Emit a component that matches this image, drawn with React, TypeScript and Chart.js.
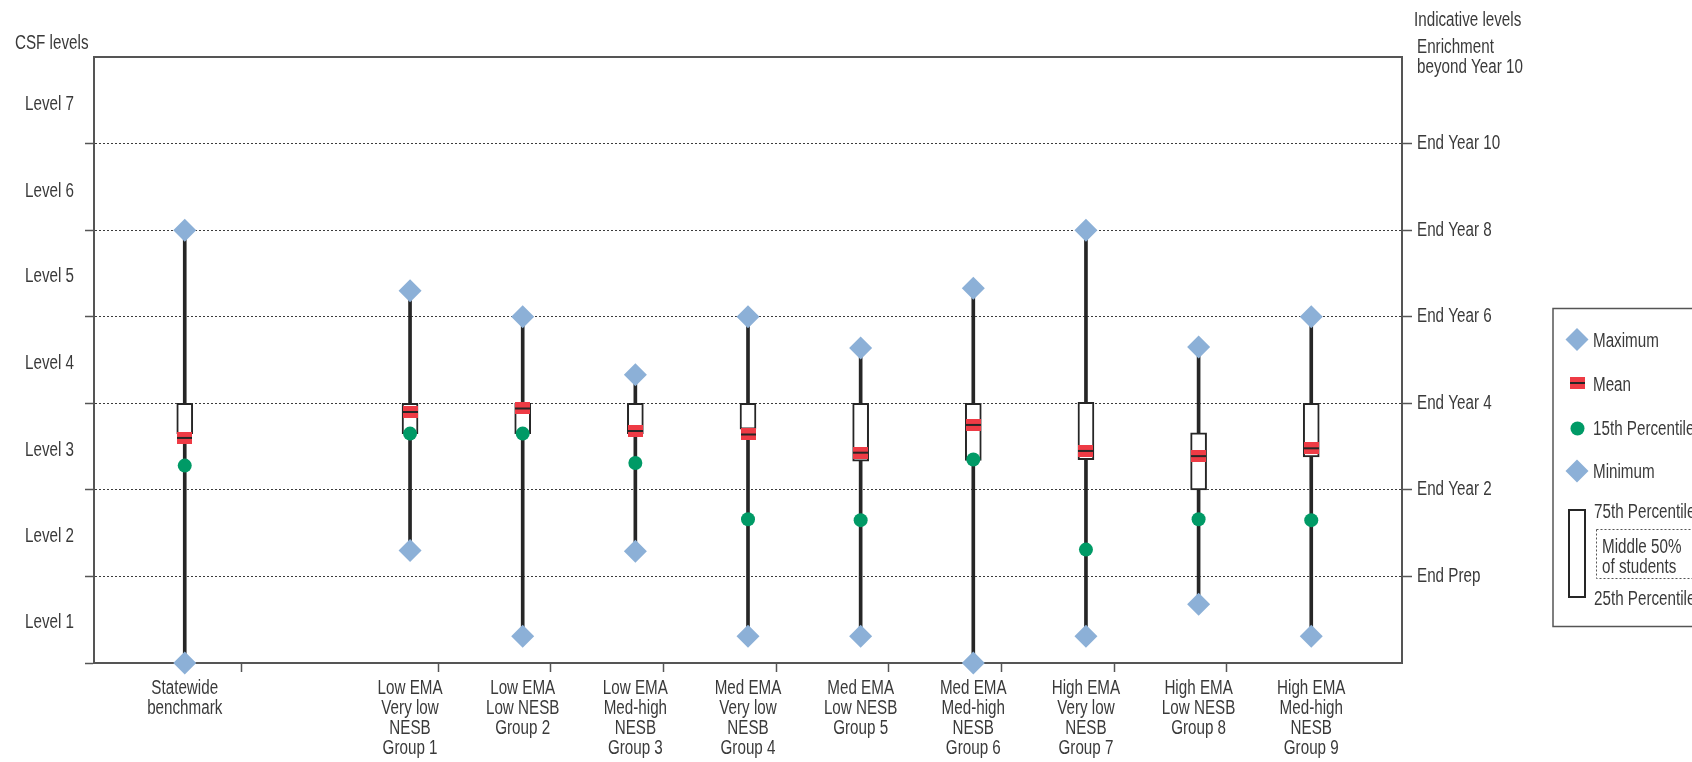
import React, { useEffect, useRef } from 'react';
import { Chart, registerables } from 'chart.js';

Chart.register(...registerables);

// ---------------- DATA ----------------
const CATEGORIES: (string | string[])[] = [
  ['Statewide', 'benchmark'],
  '',
  ['Low EMA', 'Very low', 'NESB', 'Group 1'],
  ['Low EMA', 'Low NESB', 'Group 2'],
  ['Low EMA', 'Med-high', 'NESB', 'Group 3'],
  ['Med EMA', 'Very low', 'NESB', 'Group 4'],
  ['Med EMA', 'Low NESB', 'Group 5'],
  ['Med EMA', 'Med-high', 'NESB', 'Group 6'],
  ['High EMA', 'Very low', 'NESB', 'Group 7'],
  ['High EMA', 'Low NESB', 'Group 8'],
  ['High EMA', 'Med-high', 'NESB', 'Group 9'],
];
const MAXIMUM: (number | null)[] = [5.0, null, 4.3, 4.0, 3.33, 4.0, 3.64, 4.33, 5.0, 3.65, 4.0];
const MINIMUM: (number | null)[] = [0, null, 1.3, 0.31, 1.29, 0.31, 0.31, 0, 0.31, 0.68, 0.31];
const P75: (number | null)[] = [3.0, null, 3.0, 3.0, 3.0, 3.0, 3.0, 3.0, 3.01, 2.66, 3.0];
const P25: (number | null)[] = [2.65, null, 2.65, 2.65, 2.65, 2.7, 2.33, 2.34, 2.35, 2.0, 2.38];
const MEAN: (number | null)[] = [2.6, null, 2.9, 2.94, 2.68, 2.64, 2.43, 2.75, 2.45, 2.39, 2.48];
const P15: (number | null)[] = [2.28, null, 2.65, 2.65, 2.31, 1.66, 1.65, 2.35, 1.31, 1.66, 1.65];

const LEFT_LABELS = ['Level 1', 'Level 2', 'Level 3', 'Level 4', 'Level 5', 'Level 6', 'Level 7'];
const LEFT_LABEL_POS = [0.47, 1.46, 2.46, 3.46, 4.46, 5.45, 6.45];
const RIGHT_LABELS: (string | string[])[] = [
  'End Prep', 'End Year 2', 'End Year 4', 'End Year 6', 'End Year 8', 'End Year 10',
  ['Enrichment', 'beyond Year 10'],
];
const X_MARK_TICKS = [1, 2.5, 3.5, 4.5, 5.5, 6.5, 7.5, 8.5, 9.5];
const LEFT_TITLE = 'CSF levels';
const RIGHT_TITLE = 'Indicative levels';
const LEGEND_ITEMS = ['Maximum', 'Mean', '15th Percentile', 'Minimum'];
const LEGEND_BOX_TEXT = ['75th Percentile', 'Middle 50%', 'of students', '25th Percentile'];

// ---------------- STYLE ----------------
const FONT_FAMILY = '"Liberation Sans", Arial, sans-serif';
const FONT_SIZE = 20;
const TEXT_SCALE_X = 0.76; // narrow (condensed) look
const TEXT = '#3a3a3a';
const AXIS = '#555555';
const DARK = '#262626';
const BLUE = '#8CB0D7';
const GREEN = '#009A66';
const RED = '#EE3B45';

function makeMeanImage(): HTMLCanvasElement {
  const c = document.createElement('canvas');
  c.width = 15;
  c.height = 12;
  const g = c.getContext('2d')!;
  g.fillStyle = RED;
  g.fillRect(0, 0, 15, 12);
  g.fillStyle = DARK;
  g.fillRect(0, 5, 15, 2);
  return c;
}

function pts(arr: (number | null)[]) {
  const out: { x: number; y: number }[] = [];
  arr.forEach((v, i) => {
    if (v !== null) out.push({ x: i, y: v });
  });
  return out;
}
function ranges(lo: (number | null)[], hi: (number | null)[]) {
  const out: { x: number; y: [number, number] }[] = [];
  lo.forEach((v, i) => {
    const h = hi[i];
    if (v !== null && h !== null) out.push({ x: i, y: [v, h] });
  });
  return out;
}

function condenseText(ctx: any) {
  if (ctx.__condensed) return;
  ctx.__condensed = true;
  const orig = ctx.fillText.bind(ctx);
  ctx.fillText = (text: string, x: number, y: number, maxWidth?: number) => {
    ctx.save();
    ctx.translate(x, y);
    ctx.scale(TEXT_SCALE_X, 1);
    if (maxWidth !== undefined) orig(text, 0, 0, maxWidth / TEXT_SCALE_X);
    else orig(text, 0, 0);
    ctx.restore();
  };
}

export default function App() {
  const ref = useRef<HTMLCanvasElement | null>(null);

  useEffect(() => {
    document.body.style.margin = '0';
    const canvas = ref.current!;
    const context = canvas.getContext('2d')!;
    condenseText(context);
    const meanImg = makeMeanImage();
    const font = { family: FONT_FAMILY, size: FONT_SIZE, lineHeight: '20px' };
    const fontStr = `${FONT_SIZE}px ${FONT_FAMILY}`;

    const framePlugin = {
      id: 'frame',
      beforeDatasetsDraw(chart: any) {
        const { ctx, chartArea: a } = chart;
        ctx.save();
        ctx.strokeStyle = AXIS;
        ctx.lineWidth = 2;
        ctx.beginPath();
        ctx.moveTo(a.left - 1, a.top);
        ctx.lineTo(a.right + 1, a.top);
        ctx.stroke();
        ctx.restore();
      },
    };

    const annotPlugin = {
      id: 'annot',
      afterDraw(chart: any) {
        const ctx: CanvasRenderingContext2D = chart.ctx;
        ctx.save();
        ctx.font = fontStr;
        ctx.fillStyle = TEXT;
        ctx.textBaseline = 'middle';
        ctx.textAlign = 'left';
        ctx.fillText(LEFT_TITLE, 15, 43);
        ctx.fillText(RIGHT_TITLE, 1414, 20);

        // legend box
        const lx = 1553;
        ctx.strokeStyle = AXIS;
        ctx.lineWidth = 1.5;
        ctx.strokeRect(lx, 308.5, 200, 318);

        const diamond = (cx: number, cy: number, r: number) => {
          ctx.beginPath();
          ctx.moveTo(cx - r, cy);
          ctx.lineTo(cx, cy - r);
          ctx.lineTo(cx + r, cy);
          ctx.lineTo(cx, cy + r);
          ctx.closePath();
          ctx.fillStyle = BLUE;
          ctx.fill();
        };
        const tx = 1593;
        diamond(1577, 339.5, 11.5);
        ctx.drawImage(meanImg, 1570, 377);
        ctx.beginPath();
        ctx.arc(1577.5, 428.5, 7, 0, Math.PI * 2);
        ctx.fillStyle = GREEN;
        ctx.fill();
        diamond(1577, 471, 11.5);
        ctx.fillStyle = TEXT;
        ctx.fillText(LEGEND_ITEMS[0], tx, 341);
        ctx.fillText(LEGEND_ITEMS[1], tx, 385);
        ctx.fillText(LEGEND_ITEMS[2], tx, 429);
        ctx.fillText(LEGEND_ITEMS[3], tx, 472);

        // box sample
        ctx.strokeStyle = DARK;
        ctx.lineWidth = 2;
        ctx.strokeRect(1569, 510, 16, 87);
        ctx.fillStyle = TEXT;
        ctx.fillText(LEGEND_BOX_TEXT[0], 1594, 512);
        ctx.fillText(LEGEND_BOX_TEXT[3], 1594, 599);
        ctx.save();
        ctx.setLineDash([2, 2]);
        ctx.strokeStyle = AXIS;
        ctx.lineWidth = 1;
        ctx.strokeRect(1596.5, 529.5, 120, 49);
        ctx.restore();
        ctx.fillText(LEGEND_BOX_TEXT[1], 1602, 547);
        ctx.fillText(LEGEND_BOX_TEXT[2], 1602, 567);
        ctx.restore();
      },
    };

    const isInt = (v: number) => Math.abs(v - Math.round(v)) < 1e-6;
    const yTicks: number[] = [0, 1, 2, 3, 4, 5, 6, 7, ...LEFT_LABEL_POS].sort((a, b) => a - b);
    const xTicks: number[] = [];
    CATEGORIES.forEach((_, i) => xTicks.push(i));
    X_MARK_TICKS.forEach((v) => { if (!xTicks.includes(v)) xTicks.push(v); });
    xTicks.sort((a, b) => a - b);

    const chart = new Chart(context, {
      type: 'bar',
      data: {
        datasets: [
          {
            type: 'scatter',
            label: 'Maximum',
            data: pts(MAXIMUM),
            pointStyle: 'rectRot',
            pointRadius: 11.5,
            pointBackgroundColor: BLUE,
            pointBorderWidth: 0,
            order: 1,
            clip: false,
          },
          {
            type: 'scatter',
            label: 'Minimum',
            data: pts(MINIMUM),
            pointStyle: 'rectRot',
            pointRadius: 11.5,
            pointBackgroundColor: BLUE,
            pointBorderWidth: 0,
            order: 2,
            clip: false,
          },
          {
            type: 'scatter',
            label: '15th Percentile',
            data: pts(P15),
            pointStyle: 'circle',
            pointRadius: 7,
            pointBackgroundColor: GREEN,
            pointBorderWidth: 0,
            order: 3,
            clip: false,
          },
          {
            type: 'scatter',
            label: 'Mean',
            data: pts(MEAN),
            pointStyle: meanImg,
            order: 4,
            clip: false,
          },
          {
            type: 'bar',
            label: 'Middle 50%',
            data: ranges(P25, P75),
            backgroundColor: '#ffffff',
            borderColor: DARK,
            borderWidth: 2,
            borderSkipped: false,
            barThickness: 16,
            grouped: false,
            order: 5,
          },
          {
            type: 'bar',
            label: 'Range',
            data: ranges(MINIMUM, MAXIMUM),
            backgroundColor: DARK,
            borderWidth: 0,
            barThickness: 3,
            grouped: false,
            order: 6,
          },
        ] as any,
      },
      options: {
        responsive: false,
        animation: false,
        devicePixelRatio: 1,
        events: [],
        layout: { padding: { top: 57, left: 0, right: 0, bottom: 0 } },
        plugins: { legend: { display: false }, tooltip: { enabled: false } },
        scales: {
          x: {
            type: 'linear',
            position: 'bottom',
            min: -0.5,
            max: 10.5,
            afterBuildTicks: (s: any) => { s.ticks = xTicks.map((v) => ({ value: v })); },
            afterFit: (s: any) => { s.height = 99; },
            ticks: {
              autoSkip: false,
              maxRotation: 0,
              minRotation: 0,
              padding: 6,
              color: TEXT,
              font,
              callback: (v: any) => (isInt(Number(v)) ? CATEGORIES[Math.round(Number(v))] : ''),
            },
            grid: {
              drawOnChartArea: false,
              drawTicks: true,
              tickLength: 9,
              tickWidth: 1.5,
              tickBorderDash: [],
              color: 'transparent',
              tickColor: (c: any) => (c.tick && X_MARK_TICKS.includes(c.tick.value) ? AXIS : 'transparent'),
            },
            border: { display: true, color: AXIS, width: 2 },
          },
          y: {
            type: 'linear',
            position: 'left',
            min: 0,
            max: 7,
            afterBuildTicks: (s: any) => { s.ticks = yTicks.map((v) => ({ value: v })); },
            afterFit: (s: any) => { s.width = 94; },
            ticks: {
              autoSkip: false,
              padding: 11,
              color: TEXT,
              font,
              callback: (v: any) => {
                const n = Number(v);
                return isInt(n) ? '' : LEFT_LABELS[Math.floor(n)];
              },
            },
            grid: {
              drawOnChartArea: true,
              drawTicks: true,
              tickLength: 9,
              lineWidth: 1,
              tickWidth: 1.5,
              tickBorderDash: [],
              color: (c: any) => {
                const v = c.tick ? c.tick.value : -1;
                return isInt(v) && v >= 1 && v <= 6 ? '#3c3c3c' : 'transparent';
              },
              tickColor: (c: any) => {
                const v = c.tick ? c.tick.value : -1;
                return isInt(v) && v >= 0 && v <= 6 ? AXIS : 'transparent';
              },
            },
            border: { display: true, color: AXIS, width: 2, dash: [2, 2] },
          },
          y2: {
            type: 'linear',
            position: 'right',
            min: 0,
            max: 7,
            afterBuildTicks: (s: any) => {
              s.ticks = RIGHT_LABELS.map((_, i) => ({ value: i + 1 }));
            },
            afterFit: (s: any) => { s.width = 290; },
            ticks: {
              autoSkip: false,
              padding: 5,
              color: TEXT,
              font,
              callback: (v: any) => RIGHT_LABELS[Math.round(Number(v)) - 1],
            },
            grid: {
              drawOnChartArea: false,
              drawTicks: true,
              tickLength: 10,
              tickWidth: 1.5,
              tickBorderDash: [],
              color: 'transparent',
              tickColor: (c: any) => {
                const v = c.tick ? c.tick.value : -1;
                return v >= 1 && v <= 6 ? AXIS : 'transparent';
              },
            },
            border: { display: true, color: AXIS, width: 2 },
          },
        },
      } as any,
      plugins: [framePlugin, annotPlugin],
    });

    return () => chart.destroy();
  }, []);

  return (
    <div style={{ width: 1692, height: 762, position: 'relative', background: '#fff' }}>
      <canvas ref={ref} width={1692} height={762} style={{ display: 'block' }} />
    </div>
  );
}
